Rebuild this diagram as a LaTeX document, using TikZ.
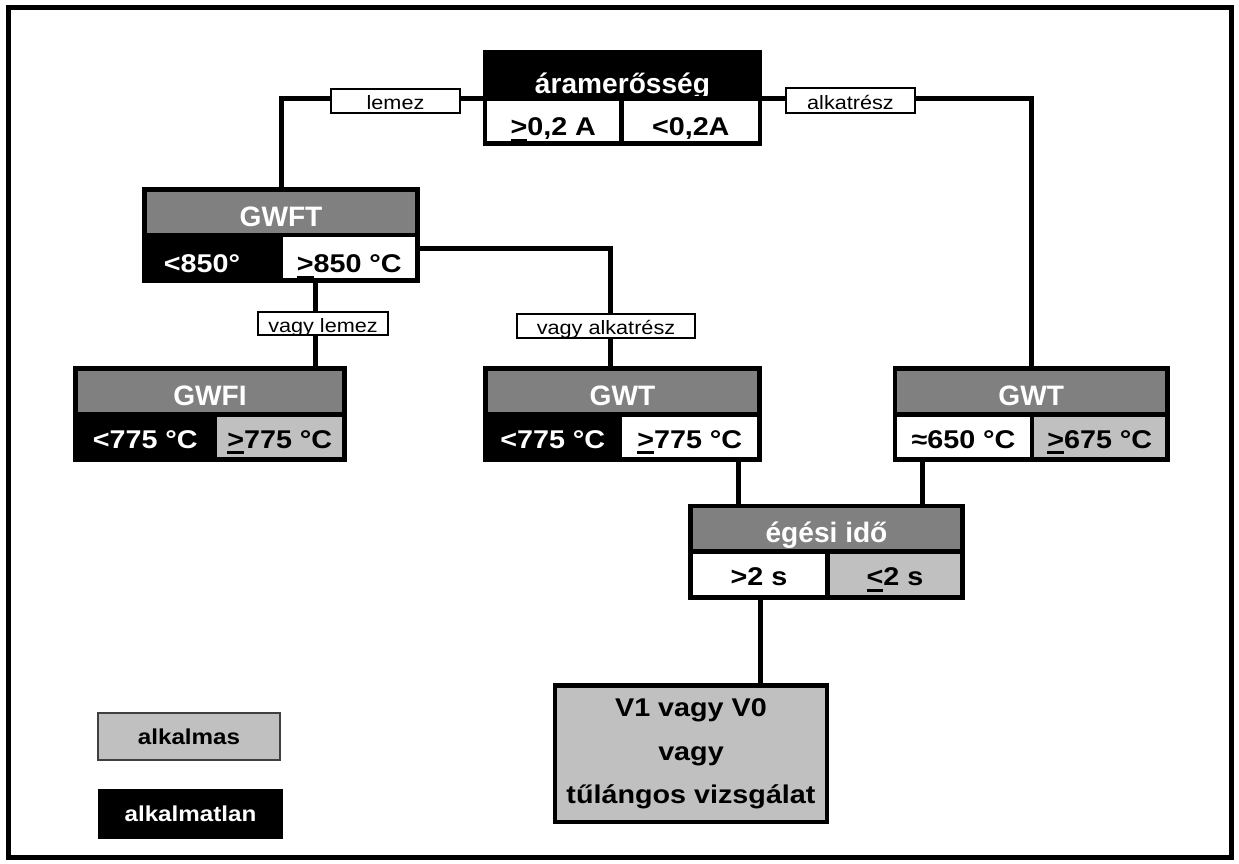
\documentclass[tikz,border=0pt]{standalone}
\usepackage{fontspec}
\setmainfont{Liberation Sans}
\newfontfamily\stretchfont[FakeStretch=1.12]{Liberation Sans}
\usetikzlibrary{calc}
\definecolor{hgray}{HTML}{808080}
\definecolor{lgray}{HTML}{C0C0C0}
\newsavebox\undlbox
\newcommand\undl[1]{\sbox\undlbox{#1}\rlap{\rule[-3.4pt]{\wd\undlbox}{1.7pt}}\usebox\undlbox}
\begin{document}
\begin{tikzpicture}[x=0.02cm, y=-0.02cm,
  box/.style={draw=black, line width=0.09cm, inner sep=0pt, outer sep=0pt, align=center},
  hdr/.style={box, fill=hgray, text=white, font=\fontsize{16}{19}\selectfont\bfseries, text height=16pt, text depth=0pt},
  cell/.style={box, font=\stretchfont\fontsize{14.6}{17}\selectfont\bfseries, text height=13pt, text depth=0pt, minimum height=0.9cm},
  dark/.style={fill=black, text=white},
  light/.style={fill=lgray, text=black},
  plain/.style={fill=white, text=black},
  conn/.style={line width=0.1cm},
  lbl/.style={draw=black, line width=0.03cm, fill=white, inner sep=0pt, font=\stretchfont\fontsize{11}{13}\selectfont, text height=10pt, text depth=0pt},
  legend/.style={inner sep=0pt, font=\stretchfont\fontsize{12.3}{14}\selectfont\bfseries}
]
\useasboundingbox (0,0) rectangle (1239,863);
\fill[white] (0,0) rectangle (1239,863);
\draw[line width=0.1cm] (8.5,7.5) rectangle (1231.5,857.5);

% top decision
\node[hdr, fill=black, text height=20.5pt, minimum width=5.5cm, minimum height=0.93cm] (amp) at (622.5,75.25) {áramerősség};
\node[cell, plain, text height=17pt, minimum width=2.73cm] (ampL) at (553.25,121) {\undl{>}0,2 A};
\node[cell, plain, text height=17pt, minimum width=2.77cm] (ampR) at (690.75,121) {<0,2A};

% GWFT
\node[hdr, minimum width=5.46cm, minimum height=0.91cm] (gwft) at (281,212.25) {GWFT};
\node[cell, dark, text height=17pt, minimum width=2.73cm, minimum height=0.91cm] (gwftL) at (212.75,257.75) {<850°\hspace*{0.43cm}};
\node[cell, plain, text height=17pt, minimum width=2.73cm, minimum height=0.91cm] (gwftR) at (349.25,257.75) {\undl{>}850 °C};

% GWFI
\node[hdr, minimum width=5.38cm, minimum height=0.92cm] (gwfi) at (210,391.5) {GWFI};
\node[cell, dark, minimum width=2.79cm] (gwfiL) at (145.25,437) {<775 °C};
\node[cell, light, minimum width=2.59cm] (gwfiR) at (279.75,437) {\undl{>}775 °C};

% GWT middle
\node[hdr, minimum width=5.48cm, minimum height=0.92cm] (gwtm) at (622.5,391.5) {GWT};
\node[cell, dark, minimum width=2.69cm] (gwtmL) at (552.75,437) {<775 °C};
\node[cell, plain, minimum width=2.79cm] (gwtmR) at (689.75,437) {\undl{>}775 °C};

% GWT right
\node[hdr, minimum width=5.45cm, minimum height=0.92cm] (gwtr) at (1031.25,391.5) {GWT};
\node[cell, plain, minimum width=2.74cm] (gwtrL) at (963.5,437) {≈650 °C};
\node[cell, light, minimum width=2.71cm] (gwtrR) at (1099.75,437) {\undl{>}675 °C};

% burning time
\node[hdr, minimum width=5.44cm, minimum height=0.91cm] (eg) at (826.5,528.75) {égési idő};
\node[cell, plain, minimum width=2.74cm, minimum height=0.92cm] (egL) at (759,574.5) {>2 s};
\node[cell, light, minimum width=2.7cm, minimum height=0.92cm] (egR) at (895,574.5) {\undl{<}2 s};

% result
\node[box, light, font=\stretchfont\fontsize{14.6}{24.5}\selectfont\bfseries, minimum width=5.44cm, minimum height=2.73cm] (v1) at (691,753.75) {V1 vagy V0\\vagy\\tűlángos vizsgálat};

% legend
\node[legend, draw=black!75, line width=0.04cm, fill=lgray, minimum width=3.64cm, minimum height=0.94cm] (leg1) at (189,736.5) {alkalmas};
\node[legend, fill=black, text=white, minimum width=3.7cm, minimum height=1cm] (leg2) at (190.5,814) {alkalmatlan};

% connectors
\coordinate (xa) at (610,248);
\coordinate (xb) at (315,0);
\coordinate (xc) at (738,0);
\coordinate (xd) at (922,0);
\coordinate (xe) at (760,0);
\draw[conn] (amp.south west) -| (gwft.north);
\draw[conn] (amp.south east) -| (gwtr.north);
\draw[conn] (gwftR.east |- xa) -| (gwtm.north -| xa);
\draw[conn] (gwftR.south -| xb) -- (gwfi.north -| xb);
\draw[conn] (gwtmR.south -| xc) -- (eg.north -| xc);
\draw[conn] (gwtrL.south -| xd) -- (eg.north -| xd);
\draw[conn] (egL.south -| xe) -- (v1.north -| xe);

% connector labels
\node[lbl, minimum width=2.58cm, minimum height=0.48cm] (l1) at (395.5,101) {lemez};
\node[lbl, minimum width=2.58cm, minimum height=0.5cm] (l2) at (850.5,100.5) {alkatrész};
\node[lbl, minimum width=2.6cm, minimum height=0.46cm] (l3) at (323,323.5) {vagy lemez};
\node[lbl, minimum width=3.56cm, minimum height=0.48cm] (l4) at (606,326) {vagy alkatrész};
\end{tikzpicture}
\end{document}
